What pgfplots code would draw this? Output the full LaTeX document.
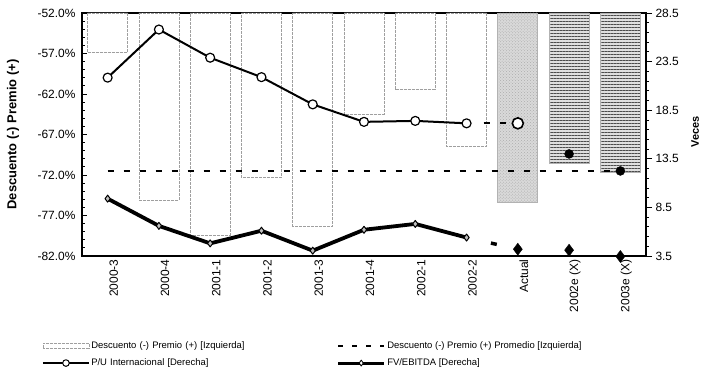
\documentclass[border=0pt]{standalone}
\usepackage{pgfplots}
\pgfplotsset{compat=1.18}
\usetikzlibrary{patterns,patterns.meta}
\usepackage{fontspec}
\setmainfont{Liberation Sans}
\begin{document}
\begin{tikzpicture}
\path[use as bounding box] (0,0) rectangle (702bp,375bp);
\begin{axis}[
  scale only axis, width=564bp, height=243bp,
  at={(82bp,119bp)}, anchor=south west,
  xmin=-0.5, xmax=10.5, ymin=-82, ymax=-52,
  xtick={0,...,10},
  xticklabels={2000-3,2000-4,2001-1,2001-2,2001-3,2001-4,2002-1,2002-2,Actual,2002e (X),2003e (X)},
  xtick style={draw=none},
  xticklabel style={rotate=90, anchor=east, font=\fontsize{12}{12}\selectfont, yshift=-6bp},
  ytick={-82,-77,-72,-67,-62,-57,-52},
  minor y tick num=4,
  ytick pos=left, tick align=inside,
  /pgf/number format/assume math mode=true,
  yticklabel={\pgfmathprintnumber[fixed,fixed zerofill,precision=1]{\tick}\%},
  yticklabel style={font=\fontsize{12}{12}\selectfont, xshift=-3bp},
  major tick length=5bp, minor tick length=3bp,
  every tick/.style={black, line width=0.8bp},
  axis line style={line width=1.2bp},
  ylabel={\textbf{Descuento (-) Premio (+)}},
  ylabel style={at={(axis description cs:-0.1223,0.5)}, anchor=center, font=\fontsize{13}{13}\selectfont},
]
\addplot[ybar, bar width=40bp, bar shift=0pt, fill=white, draw=gray!75, dash pattern=on 3bp off 1bp, line width=0.7bp]
  coordinates {(0,-56.9)(1,-75.1)(2,-79.4)(3,-72.3)(4,-78.3)(5,-64.5)(6,-61.4)(7,-68.5)};
\addplot[ybar, bar width=40bp, bar shift=0pt, fill=gray!30, draw=gray!60, line width=0.7bp,
  postaction={pattern color=gray!65, pattern=crosshatch dots}]
  coordinates {(8,-75.4)};
\addplot[ybar, bar width=40bp, bar shift=0pt, fill=gray!25, draw=gray!60, line width=0.7bp,
  postaction={pattern color=black!70, pattern={Lines[angle=0,distance=3bp,line width=0.9bp]}}]
  coordinates {(9,-70.6)(10,-71.7)};
\addplot[black, line width=1.8bp, dash pattern=on 6bp off 10bp]
  coordinates {(0,-71.5)(10,-71.5)};
\end{axis}
\begin{axis}[
  scale only axis, width=564bp, height=243bp,
  at={(82bp,119bp)}, anchor=south west,
  xmin=-0.5, xmax=10.5, ymin=3.5, ymax=28.5,
  axis x line=none, axis y line*=right,
  ytick={3.5,8.5,13.5,18.5,23.5,28.5},
  minor y tick num=4,
  tick align=outside,
  /pgf/number format/assume math mode=true,
  yticklabel={\pgfmathprintnumber[fixed,fixed zerofill,precision=1]{\tick}},
  yticklabel style={font=\fontsize{12}{12}\selectfont},
  major tick length=6bp, minor tick length=3bp,
  every tick/.style={black, line width=0.8bp},
  axis line style={line width=1.2bp},
  ylabel={\textbf{Veces}},
  ylabel style={at={(axis description cs:1.087,0.51)}, anchor=center, font=\fontsize{11}{11}\selectfont},
  clip=false,
  legend columns=2,
  legend cell align=left,
  legend style={draw=none, fill=none, at={(axis description cs:-0.071,-0.345)}, anchor=north west,
    font=\fontsize{9.5}{10}\selectfont, inner sep=0pt, row sep=6bp, nodes={inner sep=1.5bp}},
]
\addlegendimage{legend image code/.code={\draw[draw=gray!75, dash pattern=on 3bp off 1bp, line width=0.6bp, fill=white] (0bp,-2.5bp) rectangle (46bp,2.5bp);}}
\addlegendentry[text width=244bp]{Descuento (-) Premio (+) [Izquierda]}
\addlegendimage{legend image code/.code={\draw[black, line width=1.8bp, dash pattern=on 5bp off 9bp] (0bp,0bp) -- (46bp,0bp);}}
\addlegendentry{Descuento (-) Premio (+) Promedio [Izquierda]}
\addplot[black, line width=2bp, line join=round, mark=*, mark size=4.5bp, mark options={fill=white, line width=1.2bp},
  legend image code/.code={\draw[black,line width=1.6bp] (0bp,0bp)--(46bp,0bp); \draw[black, fill=white, line width=1bp] (23bp,0bp) circle (3.3bp);}]
  coordinates {(0,21.85)(1,26.8)(2,23.9)(3,21.9)(4,19.1)(5,17.3)(6,17.4)(7,17.15)};
\addlegendentry[text width=244bp]{P/U Internacional [Derecha]}
\addplot[black, line width=3.8bp, line join=round, mark=diamond*, mark size=3.5bp, mark options={fill=gray!50, line width=1bp},
  legend image code/.code={\draw[black,line width=3bp] (0bp,0bp)--(46bp,0bp); \draw[black, fill=white, line width=0.8bp] (23bp,-3bp)--(25bp,0bp)--(23bp,3bp)--(21bp,0bp)--cycle;}]
  coordinates {(0,9.4)(1,6.6)(2,4.8)(3,6.1)(4,4.05)(5,6.2)(6,6.8)(7,5.4)};
\addlegendentry{FV/EBITDA [Derecha]}
\addplot[forget plot, black, line width=2bp, dash pattern=on 0bp off 17bp on 6bp off 10bp on 6bp off 40bp]
  coordinates {(7,17.15)(8,17.15)};
\addplot[forget plot, only marks, mark=*, mark size=5.5bp, mark options={fill=white, draw=black, line width=1.6bp}]
  coordinates {(8,17.15)};
\addplot[forget plot, only marks, mark=*, mark size=4.5bp, black]
  coordinates {(9,14.0)(10,12.25)};
\addplot[forget plot, black, line width=3.5bp, dash pattern=on 0bp off 25bp on 6bp off 40bp]
  coordinates {(7,5.4)(8,4.2)};
\addplot[forget plot, only marks, mark=diamond*, mark size=6bp, black]
  coordinates {(8,4.2)(9,4.1)(10,3.45)};
\end{axis}
\end{tikzpicture}
\end{document}
